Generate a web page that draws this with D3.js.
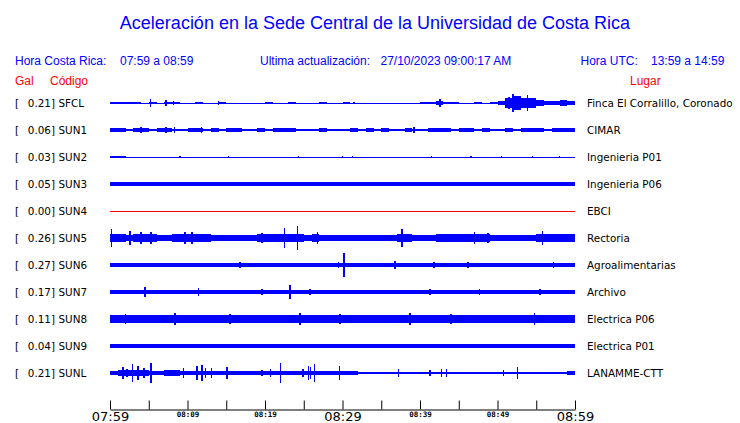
<!DOCTYPE html>
<html><head><meta charset="utf-8">
<script src="https://cdn.jsdelivr.net/npm/d3@7"></script>
<style>body{margin:0;background:#fff;} svg{display:block;}</style>
</head><body><svg id="c" width="740" height="423"></svg>
<script>
// ---------- data ----------
const codes = ["SFCL","SUN1","SUN2","SUN3","SUN4","SUN5","SUN6","SUN7","SUN8","SUN9","SUNL"];
const peakGal = [0.21,0.06,0.03,0.05,0.00,0.26,0.27,0.17,0.11,0.04,0.21];
const places = ["Finca El Corralillo, Coronado","CIMAR","Ingenieria P01","Ingenieria P06","EBCI","Rectoria","Agroalimentarias","Archivo","Electrica P06","Electrica P01","LANAMME-CTT"];
const tickMinutes = [0,5,10,15,20,25,30,35,40,45,50,55,60];
const tickLabels = ["07:59","","08:09","","08:19","","08:29","","08:39","","08:49","","08:59"];

// envelope (Gal) per minute bin, 07:59 -> 08:59
const envSFCL = [0.03,0.03,0.03,0.025,0.01, 0.015,0.008,0.02,0.02,0.01, 0.008,0.012,0.008,0.008,0.015, 0.008,0.01,0.008,0.008,0.008, 0.012,0.008,0.008,0.015,0.008, 0.008,0.008,0.012,0.008,0.01, 0.012,0.008,0.008,0.008,0.008, 0.01,0.008,0.008,0.008,0.01, 0.015,0.025,0.035,0.03,0.015, 0.01,0.008,0.012,0.008,0.012, 0.04,0.1,0.15,0.1,0.1, 0.06,0.05,0.05,0.055,0.045];
const envSUN1 = [0.035,0.035,0.03,0.035,0.035, 0.03,0.035,0.035,0.03,0.03, 0.035,0.035,0.03,0.035,0.03, 0.035,0.035,0.03,0.03,0.035, 0.03,0.035,0.035,0.035,0.03, 0.025,0.03,0.035,0.025,0.03, 0.03,0.035,0.03,0.035,0.03, 0.035,0.03,0.03,0.035,0.03, 0.03,0.035,0.035,0.035,0.03, 0.035,0.035,0.03,0.035,0.03, 0.03,0.035,0.03,0.035,0.035, 0.035,0.03,0.035,0.035,0.035];
const envSUN2 = [0.02,0.015,0.008,0.008,0.008, 0.008,0.008,0.008,0.008,0.008, 0.008,0.008,0.008,0.008,0.008, 0.008,0.008,0.008,0.008,0.008, 0.008,0.008,0.008,0.008,0.008, 0.008,0.008,0.008,0.008,0.008, 0.008,0.008,0.008,0.008,0.008, 0.008,0.008,0.008,0.008,0.008, 0.008,0.008,0.008,0.008,0.008, 0.008,0.008,0.008,0.008,0.008, 0.008,0.008,0.008,0.008,0.008, 0.008,0.008,0.008,0.008,0.008];
const envSUN3 = [0.04,0.04,0.045,0.04,0.04, 0.04,0.04,0.04,0.04,0.04, 0.04,0.04,0.04,0.04,0.04, 0.04,0.04,0.04,0.04,0.04, 0.04,0.04,0.04,0.045,0.04, 0.04,0.04,0.04,0.04,0.04, 0.04,0.04,0.04,0.04,0.04, 0.04,0.04,0.04,0.04,0.04, 0.04,0.04,0.04,0.04,0.04, 0.04,0.045,0.04,0.04,0.04, 0.04,0.04,0.04,0.04,0.04, 0.04,0.04,0.04,0.04,0.04];
const envSUN4 = [0,0,0,0,0, 0,0,0,0,0, 0,0,0,0,0, 0,0,0,0,0, 0,0,0,0,0, 0,0,0,0,0, 0,0,0,0,0, 0,0,0,0,0, 0,0,0,0,0, 0,0,0,0,0, 0,0,0,0,0, 0,0,0,0,0];
const envSUN5 = [0.09,0.08,0.07,0.08,0.08, 0.08,0.07,0.07,0.08,0.09, 0.08,0.09,0.08,0.07,0.07, 0.07,0.07,0.07,0.07,0.08, 0.09,0.08,0.09,0.08,0.08, 0.07,0.08,0.07,0.07,0.07, 0.07,0.07,0.07,0.07,0.07, 0.07,0.07,0.08,0.08,0.07, 0.07,0.07,0.08,0.08,0.08, 0.08,0.09,0.09,0.08,0.07, 0.07,0.07,0.06,0.06,0.06, 0.08,0.08,0.08,0.08,0.08];
const envSUN6 = [0.037,0.037,0.032,0.037,0.037, 0.032,0.037,0.037,0.037,0.032, 0.037,0.037,0.032,0.037,0.037, 0.037,0.032,0.037,0.037,0.037, 0.032,0.037,0.037,0.037,0.032, 0.037,0.037,0.032,0.037,0.037, 0.037,0.037,0.032,0.037,0.037, 0.032,0.037,0.037,0.037,0.032, 0.037,0.037,0.037,0.032,0.037, 0.037,0.037,0.032,0.037,0.037, 0.037,0.032,0.037,0.037,0.037, 0.032,0.037,0.037,0.037,0.037];
const envSUN7 = [0.04,0.04,0.045,0.04,0.045, 0.04,0.04,0.04,0.045,0.04, 0.04,0.045,0.04,0.04,0.04, 0.04,0.04,0.045,0.04,0.04, 0.04,0.045,0.04,0.045,0.04, 0.04,0.04,0.04,0.04,0.04, 0.04,0.04,0.04,0.04,0.04, 0.04,0.04,0.04,0.04,0.04, 0.04,0.045,0.04,0.04,0.04, 0.04,0.04,0.04,0.045,0.04, 0.04,0.04,0.04,0.04,0.04, 0.045,0.04,0.04,0.04,0.04];
const envSUN8 = [0.08,0.085,0.08,0.08,0.075, 0.08,0.075,0.08,0.085,0.08, 0.075,0.08,0.08,0.075,0.08, 0.08,0.08,0.075,0.08,0.08, 0.08,0.075,0.08,0.08,0.085, 0.08,0.075,0.08,0.08,0.08, 0.08,0.075,0.08,0.08,0.075, 0.08,0.08,0.08,0.08,0.075, 0.08,0.08,0.075,0.08,0.08, 0.08,0.075,0.08,0.08,0.08, 0.075,0.08,0.08,0.08,0.085, 0.08,0.08,0.075,0.08,0.08];
const envSUN9 = [0.034,0.034,0.034,0.034,0.034, 0.034,0.034,0.034,0.034,0.034, 0.034,0.034,0.034,0.034,0.034, 0.034,0.034,0.034,0.034,0.034, 0.034,0.034,0.034,0.034,0.034, 0.034,0.034,0.034,0.034,0.034, 0.034,0.034,0.034,0.034,0.034, 0.034,0.034,0.034,0.034,0.034, 0.034,0.034,0.034,0.034,0.034, 0.034,0.034,0.034,0.034,0.034, 0.034,0.034,0.034,0.034,0.034, 0.034,0.034,0.034,0.034,0.034];
const envSUNL = [0.05,0.06,0.07,0.06,0.06, 0.05,0.035,0.06,0.06,0.035, 0.035,0.04,0.04,0.04,0.035, 0.035,0.035,0.035,0.035,0.035, 0.045,0.04,0.035,0.035,0.045, 0.05,0.05,0.035,0.035,0.04, 0.035,0.035,0.03,0.03,0.03, 0.03,0.03,0.03,0.03,0.03, 0.03,0.03,0.03,0.03,0.03, 0.03,0.03,0.03,0.03,0.03, 0.03,0.03,0.03,0.03,0.03, 0.03,0.03,0.03,0.03,0.035];

// isolated peaks: [minute, Gal]
const spkSFCL = [[5.2,0.085],[7.2,0.07],[8.2,0.05],[14.0,0.04],[20.8,0.03],[27.2,0.03],[31.5,0.03],[42.6,0.085],[51.5,0.13],[52.0,0.195],[53.9,0.17]];
const spkSUN1 = [[4.0,0.07],[7.2,0.055],[8.3,0.06],[11.8,0.055],[13.5,0.05],[39.2,0.055],[46.2,0.05],[53.7,0.045]];
const spkSUN2 = [[9.0,0.025],[15.3,0.025],[24.3,0.02],[30.0,0.02],[31.3,0.02],[41.5,0.025],[46.6,0.02],[50.5,0.02],[54.5,0.025],[58.0,0.02]];
const spkSUN3 = [[1.0,0.05],[12.0,0.05],[28.0,0.05],[44.0,0.05]];
const spkSUN4 = [];
const spkSUN5 = [[0.2,0.18],[2.6,0.15],[4.0,0.12],[5.3,0.12],[9.7,0.13],[10.6,0.13],[19.6,0.1],[22.5,0.21],[24.2,0.25],[26.8,0.12],[37.7,0.19],[47.0,0.12],[48.8,0.1],[55.8,0.14]];
const spkSUN6 = [[3.0,0.05],[8.4,0.05],[16.8,0.07],[29.5,0.06],[30.2,0.25],[36.8,0.08],[41.8,0.07],[46.2,0.06],[52.5,0.05],[57.2,0.06]];
const spkSUN7 = [[1.5,0.05],[4.5,0.1],[11.4,0.09],[19.6,0.06],[23.2,0.15],[25.8,0.06],[30.9,0.05],[41.3,0.06],[47.7,0.06],[55.5,0.07]];
const spkSUN8 = [[2.0,0.1],[8.4,0.12],[15.5,0.11],[24.5,0.12],[29.7,0.11],[38.7,0.12],[44.0,0.1],[54.8,0.12]];
const spkSUN9 = [[10.0,0.04],[30.0,0.04],[50.0,0.04]];
const spkSUNL = [[1.7,0.13],[2.2,0.085],[2.9,0.18],[3.6,0.15],[4.4,0.1],[5.3,0.2],[9.5,0.1],[11.2,0.15],[11.9,0.16],[12.3,0.1],[13.1,0.1],[15.1,0.125],[16.5,0.04],[19.6,0.06],[20.7,0.085],[22.0,0.21],[24.9,0.085],[25.6,0.15],[25.9,0.125],[26.4,0.18],[29.6,0.15],[37.2,0.085],[41.3,0.06],[42.8,0.085],[43.4,0.085],[50.8,0.06],[52.6,0.125],[59.0,0.05]];

const envs = [envSFCL,envSUN1,envSUN2,envSUN3,envSUN4,envSUN5,envSUN6,envSUN7,envSUN8,envSUN9,envSUNL];
const spks = [spkSFCL,spkSUN1,spkSUN2,spkSUN3,spkSUN4,spkSUN5,spkSUN6,spkSUN7,spkSUN8,spkSUN9,spkSUNL];

// ---------- drawing ----------
const svg = d3.select("#c");
const BLUE = "#0000ff", RED = "#ff0000";
const x = d3.scaleLinear().domain([0,60]).range([110,575]);
const row = d3.scalePoint().domain(codes).range([103,373]);
const amp = d3.scaleLinear().domain([0,0.25]).range([0,12]);

// title & headers
svg.append("text").attr("x",375).attr("y",29).attr("text-anchor","middle")
  .style("font-family","Liberation Sans, Arial, sans-serif").style("font-size","18px").attr("fill",BLUE)
  .text("Aceleración en la Sede Central de la Universidad de Costa Rica");
const hdr = [
  {t:"Hora Costa Rica:", x:15, y:65, c:BLUE},
  {t:"07:59 a 08:59", x:120, y:65, c:BLUE},
  {t:"Ultima actualización:", x:260, y:65, c:BLUE},
  {t:"27/10/2023 09:00:17 AM", x:380.5, y:65, c:BLUE},
  {t:"Hora UTC:", x:580.5, y:65, c:BLUE},
  {t:"13:59 a 14:59", x:651, y:65, c:BLUE},
  {t:"Gal", x:15, y:85, c:RED},
  {t:"Código", x:50, y:85, c:RED},
  {t:"Lugar", x:630, y:85, c:RED}
];
svg.selectAll("text.hdr").data(hdr).join("text").attr("class","hdr")
  .attr("x",d=>d.x).attr("y",d=>d.y).attr("fill",d=>d.c)
  .style("font-family","Liberation Sans, Arial, sans-serif").style("font-size","12px")
  .text(d=>d.t);

const lblFont = "DejaVu Sans, sans-serif";
codes.forEach((code,i)=>{
  const y0 = row(code);
  const col = code==="SUN4" ? RED : BLUE;
  const g = svg.append("g");
  // left labels
  g.append("text").attr("x",15).attr("y",y0+4).style("font-family",lblFont).style("font-size","10.4px").text("[");
  g.append("text").attr("x",55).attr("y",y0+4).attr("text-anchor","end").style("font-family",lblFont).style("font-size","10.4px").text(peakGal[i].toFixed(2)+"]");
  g.append("text").attr("x",58.5).attr("y",y0+4).style("font-family",lblFont).style("font-size","10.4px").text(code);
  g.append("text").attr("x",587).attr("y",y0+4).style("font-family",lblFont).style("font-size","10.4px").text(places[i]);
  // baseline
  g.append("line").attr("x1",x(0)).attr("x2",x(60)).attr("y1",y0+0.5).attr("y2",y0+0.5)
    .attr("stroke",col).attr("stroke-width",1).attr("shape-rendering","crispEdges");
  // envelope
  const e = envs[i];
  const pts = e.map((v,j)=>[j,v]).concat([[e.length, e[e.length-1]]]);
  const area = d3.area().x(d=>x(d[0])).y0(d=>y0+amp(d[1])).y1(d=>y0-amp(d[1])).curve(d3.curveStepAfter);
  g.append("path").attr("d",area(pts)).attr("fill",col).attr("shape-rendering","crispEdges");
  // spikes
  g.selectAll("line.spk").data(spks[i]).join("line").attr("class","spk")
    .attr("x1",d=>x(d[0])).attr("x2",d=>x(d[0]))
    .attr("y1",d=>y0-amp(d[1])).attr("y2",d=>y0+amp(d[1]))
    .attr("stroke",col).attr("stroke-width",1.5).attr("shape-rendering","crispEdges");
});

// time axis
const axis = d3.axisBottom(x).tickValues(tickMinutes).tickSizeInner(-9).tickSizeOuter(0)
  .tickFormat((d,i)=>tickLabels[i]);
const ax = svg.append("g").attr("transform","translate(0,409.5)").call(axis);
ax.select(".domain").attr("stroke","#000");
ax.selectAll(".tick line").attr("stroke","#000");
ax.selectAll(".tick text").each(function(d,i){
  const major = (d%30===0);
  d3.select(this).attr("fill","#000").attr("y", major?2:2.5)
    .style("font-family", major ? "DejaVu Sans, sans-serif" : "DejaVu Sans Mono, monospace")
    .style("font-size", major ? "13px" : "7.5px")
    .style("font-weight", major ? "normal" : "bold");
});
</script></body></html>
